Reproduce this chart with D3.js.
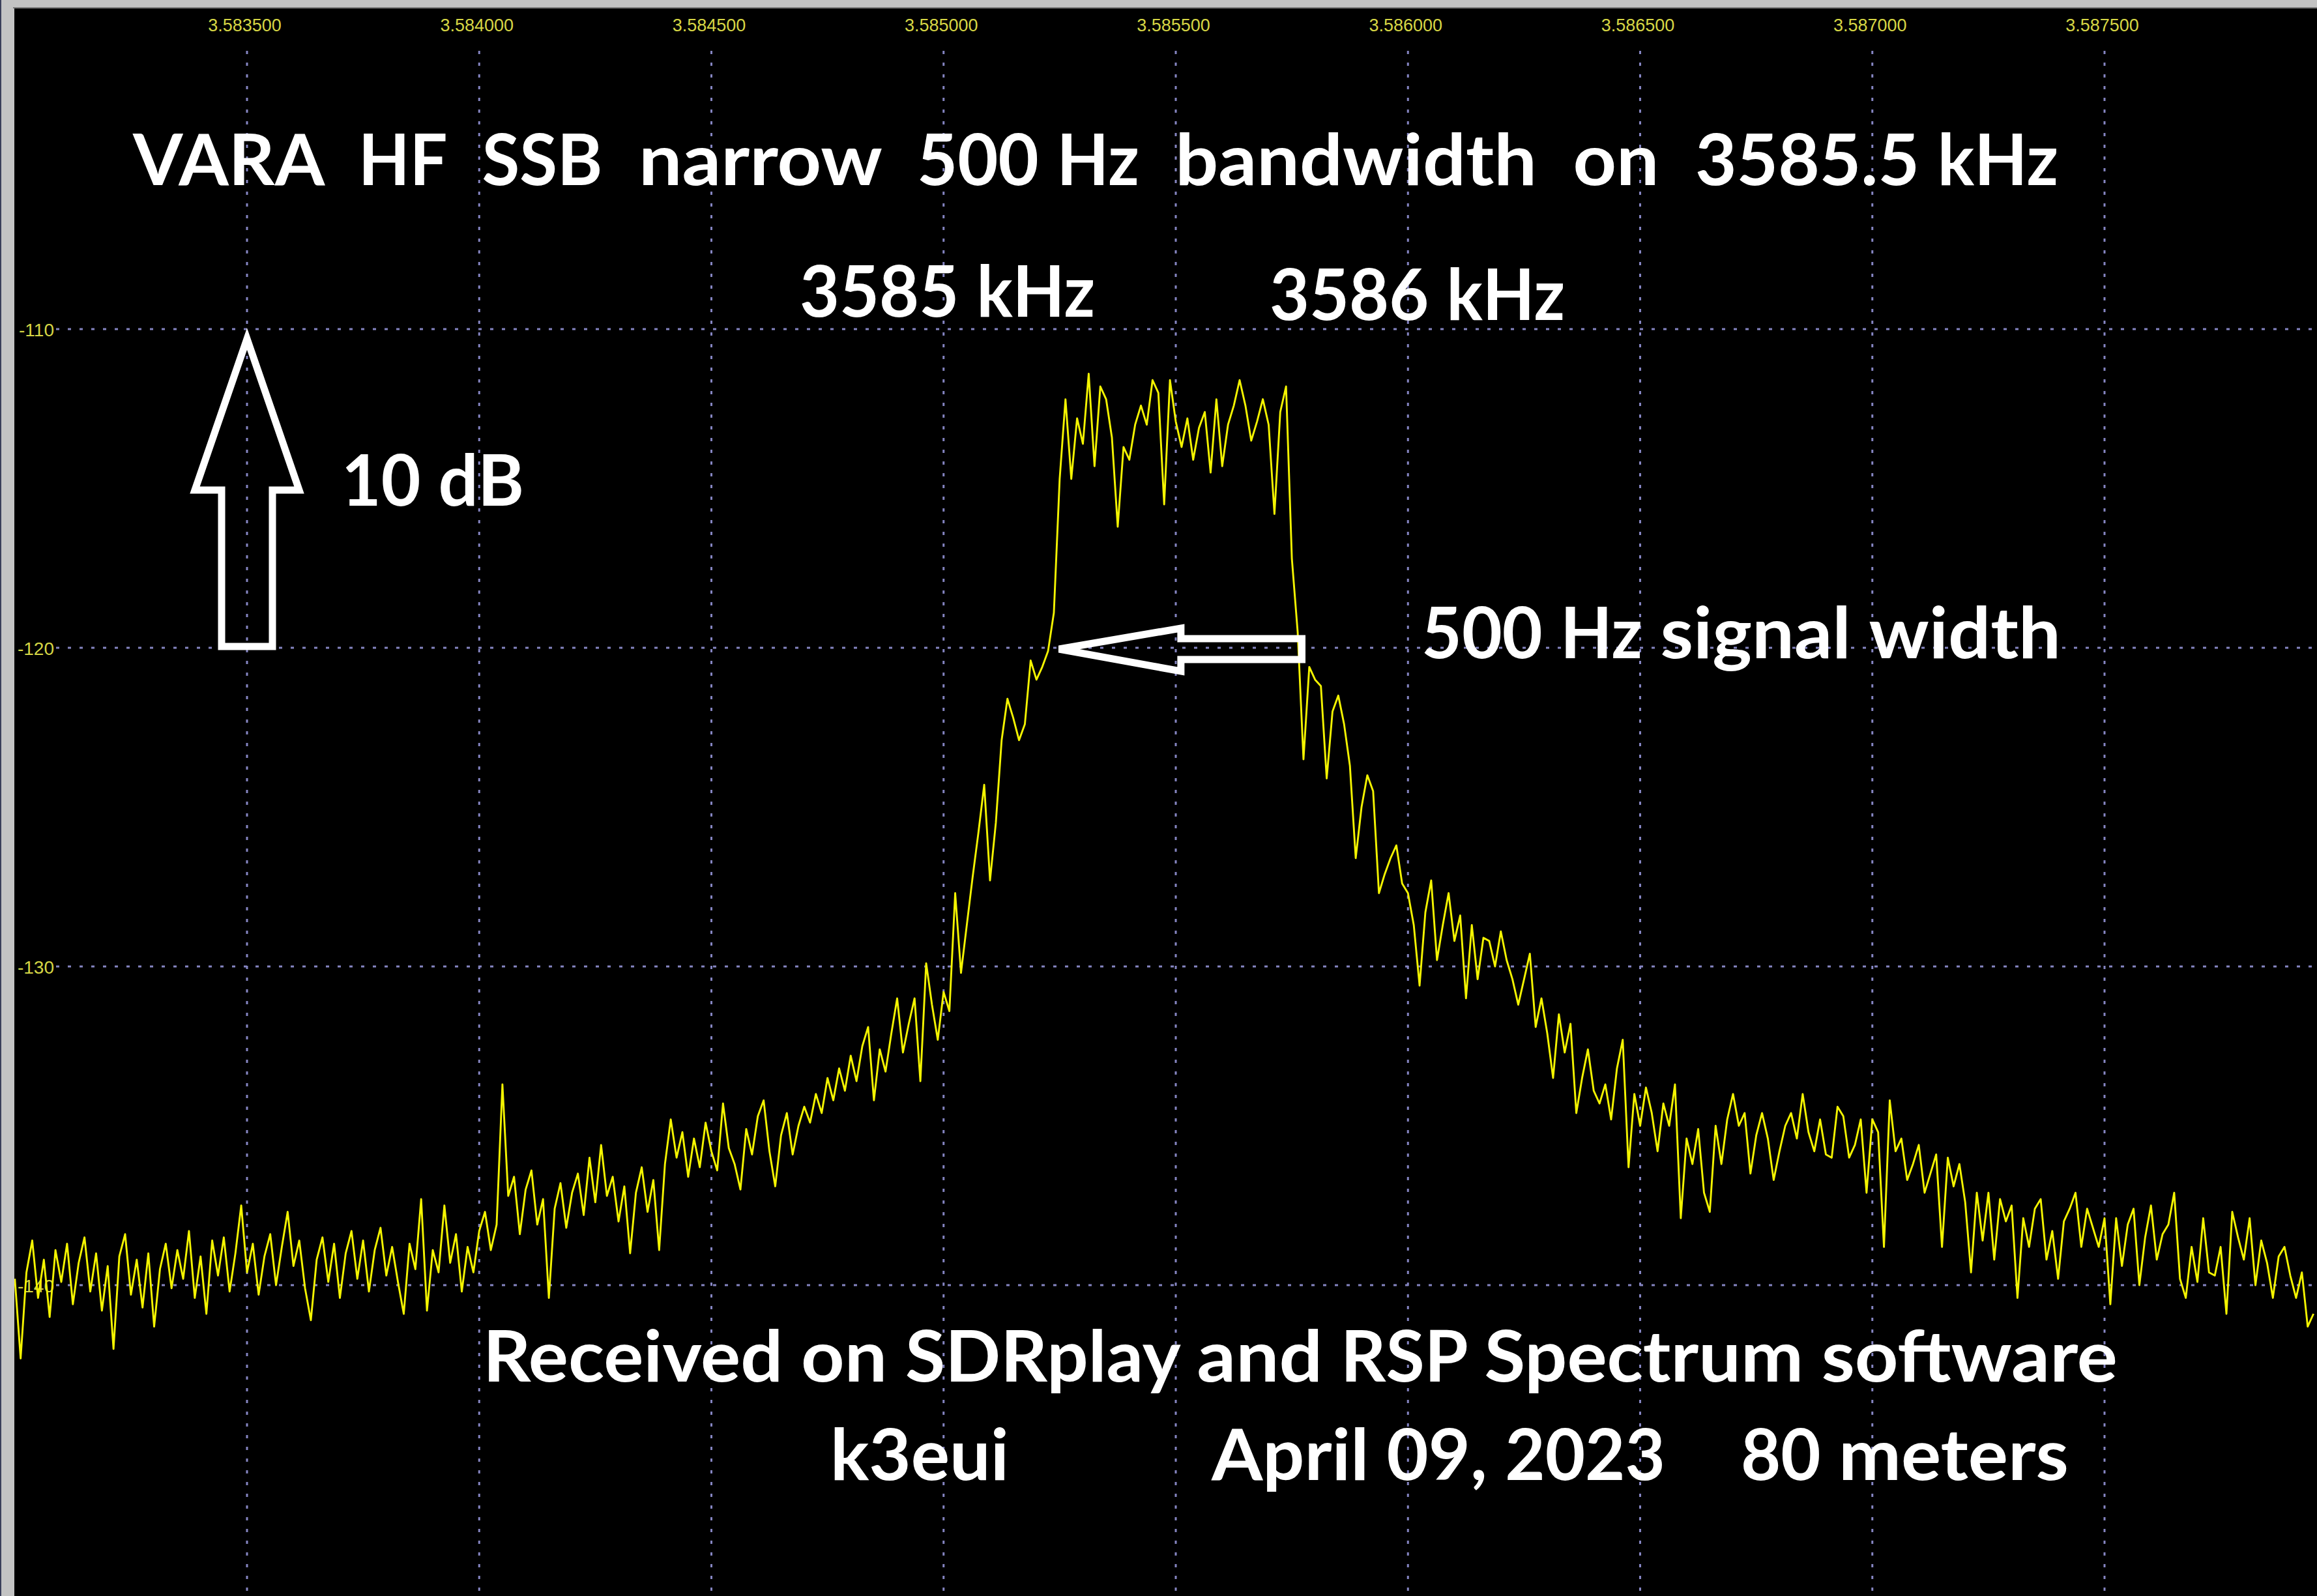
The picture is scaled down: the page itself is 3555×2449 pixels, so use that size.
<!DOCTYPE html>
<html><head><meta charset="utf-8">
<script src="https://cdn.jsdelivr.net/npm/d3@7"></script>
<style>html,body{margin:0;padding:0;background:#000;overflow:hidden}</style>
</head><body>
<script>
// ---------------- DATA ----------------
const freqTicks = [3.5835, 3.5840, 3.5845, 3.5850, 3.5855, 3.5860, 3.5865, 3.5870, 3.5875];
const freqTickLabels = ["3.583500","3.584000","3.584500","3.585000","3.585500","3.586000","3.586500","3.587000","3.587500"];
const dbTicks = [-110, -120, -130, -140];
const dbTickLabels = ["-110", "-120", "-130", "-140"];
const traceStartMHz = 3.583000;
const traceStepMHz = 0.0000125;
const traceDb = [
-139.8,-142.3,-139.6,-138.6,-140.4,-139.2,-141.0,-138.9,-139.9,-138.7,
-140.6,-139.3,-138.5,-140.2,-139.0,-140.8,-139.4,-142.0,-139.1,-138.4,
-140.3,-139.2,-140.7,-139.0,-141.3,-139.5,-138.7,-140.1,-138.9,-139.8,
-138.3,-140.4,-139.1,-140.9,-138.6,-139.7,-138.5,-140.2,-139.0,-137.5,
-139.6,-138.7,-140.3,-139.1,-138.4,-140.0,-138.8,-137.7,-139.4,-138.6,
-140.1,-141.1,-139.2,-138.5,-139.9,-138.7,-140.4,-139.0,-138.3,-139.8,
-138.6,-140.2,-138.9,-138.2,-139.7,-138.8,-139.9,-140.9,-138.7,-139.5,
-137.3,-140.8,-138.9,-139.6,-137.5,-139.3,-138.4,-140.2,-138.8,-139.6,
-138.3,-137.7,-138.9,-138.1,-133.7,-137.2,-136.6,-138.4,-137.0,-136.4,
-138.1,-137.3,-140.4,-137.6,-136.8,-138.2,-137.1,-136.5,-137.8,-136.0,
-137.4,-135.6,-137.2,-136.6,-138.0,-136.9,-139.0,-137.1,-136.3,-137.7,
-136.7,-138.9,-136.2,-134.8,-136.0,-135.2,-136.6,-135.4,-136.3,-134.9,
-135.8,-136.4,-134.3,-135.7,-136.2,-137.0,-135.1,-135.9,-134.7,-134.2,
-135.8,-136.9,-135.3,-134.6,-135.9,-135.0,-134.4,-134.9,-134.0,-134.6,
-133.5,-134.2,-133.2,-133.9,-132.8,-133.6,-132.5,-131.9,-134.2,-132.6,
-133.3,-132.1,-131.0,-132.7,-131.8,-131.0,-133.6,-129.9,-131.2,-132.3,
-130.8,-131.4,-127.7,-130.2,-128.7,-127.2,-125.8,-124.3,-127.3,-125.5,
-122.9,-121.6,-122.2,-122.9,-122.4,-120.4,-121.0,-120.6,-120.1,-118.9,
-114.7,-112.2,-114.7,-112.8,-113.6,-111.4,-114.3,-111.8,-112.2,-113.4,
-116.2,-113.7,-114.1,-113.0,-112.4,-113.0,-111.6,-112.0,-115.5,-111.6,
-112.9,-113.7,-112.8,-114.1,-113.1,-112.6,-114.5,-112.2,-114.3,-113.0,
-112.4,-111.6,-112.4,-113.5,-112.9,-112.2,-113.0,-115.8,-112.6,-111.8,
-117.2,-119.5,-123.5,-120.6,-121.0,-121.2,-124.1,-122.0,-121.5,-122.4,
-123.7,-126.6,-125.0,-124.0,-124.5,-127.7,-127.1,-126.6,-126.2,-127.4,
-127.7,-128.7,-130.6,-128.3,-127.3,-129.8,-128.7,-127.7,-129.2,-128.4,
-131.0,-128.7,-130.4,-129.1,-129.2,-130.0,-128.9,-129.8,-130.4,-131.2,
-130.4,-129.6,-131.9,-131.0,-132.1,-133.5,-131.5,-132.7,-131.8,-134.6,
-133.5,-132.6,-133.9,-134.3,-133.7,-134.8,-133.2,-132.3,-136.3,-134.0,
-135.0,-133.8,-134.6,-135.8,-134.3,-135.0,-133.7,-137.9,-135.4,-136.2,
-135.1,-137.1,-137.7,-135.0,-136.2,-134.8,-134.0,-135.0,-134.6,-136.5,
-135.3,-134.6,-135.4,-136.7,-135.8,-135.0,-134.6,-135.4,-134.0,-135.2,
-135.8,-134.8,-135.9,-136.0,-134.4,-134.7,-136.0,-135.6,-134.8,-137.1,
-134.8,-135.2,-138.8,-134.2,-135.8,-135.4,-136.7,-136.2,-135.6,-137.1,
-136.5,-135.9,-138.8,-136.0,-136.9,-136.2,-137.4,-139.6,-137.1,-138.6,
-137.1,-139.2,-137.3,-138.0,-137.5,-140.4,-137.9,-138.8,-137.6,-137.3,
-139.2,-138.3,-139.8,-138.0,-137.6,-137.1,-138.8,-137.6,-138.2,-138.8,
-137.9,-140.6,-137.9,-139.4,-138.1,-137.6,-140.0,-138.5,-137.5,-139.2,
-138.4,-138.1,-137.1,-139.8,-140.4,-138.8,-139.9,-137.9,-139.6,-139.7,
-138.8,-140.9,-137.7,-138.5,-139.2,-137.9,-140.0,-138.6,-139.3,-140.4,
-139.1,-138.8,-139.7,-140.4,-139.6,-141.3,-140.9
];
const titleText = "VARA  HF  SSB  narrow  500 Hz  bandwidth  on  3585.5 kHz";
const markerTexts = ["3585 kHz", "3586 kHz"];
const scaleText = "10 dB";
const widthText = "500 Hz signal width";
const footerLine1 = "Received on SDRplay and RSP Spectrum software";
const footerLine2 = ["k3eui", "April 09, 2023", "80 meters"];
// annotation anchors (data units)
const scaleArrowFreq = 3.5835;
const scaleArrowDb = [-110, -120];
const widthArrowFreq = [3.58525, 3.58578];
const widthArrowDb = -120;

// ---------------- LAYOUT ----------------
const W = 3555, H = 2449;
const frameLeft = 22, frameTop = 13;
const svg = d3.select("body").append("svg").attr("width", W).attr("height", H)
  .attr("viewBox", `0 0 ${W} ${H}`);

svg.append("rect").attr("width", W).attr("height", H).attr("fill", "#c3c3c3");
svg.append("rect").attr("x", 0).attr("y", 0).attr("width", 2).attr("height", H).attr("fill", "#3a3f5a");
svg.append("rect").attr("x", frameLeft - 2).attr("y", frameTop - 2).attr("width", W).attr("height", 2).attr("fill", "#7a7a7a");
svg.append("rect").attr("x", frameLeft).attr("y", frameTop).attr("width", W - frameLeft).attr("height", H - frameTop).attr("fill", "#000");

const x = d3.scaleLinear().domain([3.5835, 3.5875]).range([379, 3229]);
const y = d3.scaleLinear().domain([-110, -140]).range([505, 1972]);

const gridColor = "#8585c2";
svg.append("g").selectAll("line").data(freqTicks).join("line")
  .attr("x1", d => x(d)).attr("x2", d => x(d))
  .attr("y1", 78).attr("y2", H)
  .attr("stroke", gridColor).attr("stroke-width", 3).attr("stroke-dasharray", "5,13");
svg.append("g").selectAll("line").data(dbTicks).join("line")
  .attr("x1", 86).attr("x2", W)
  .attr("y1", d => y(d)).attr("y2", d => y(d))
  .attr("stroke", gridColor).attr("stroke-width", 3).attr("stroke-dasharray", "5,13");

const tickColor = "#d6d645";
const xAxis = d3.axisTop(x).tickValues(freqTicks)
  .tickFormat((d, i) => freqTickLabels[i]).tickSize(0).tickPadding(0);
const gx = svg.append("g").attr("transform", "translate(-4,48)").call(xAxis);
gx.select(".domain").remove();
gx.selectAll("text").attr("fill", tickColor).attr("font-family", "'Liberation Sans', Arial, sans-serif")
  .attr("font-size", 27).attr("dy", 0);

const yAxis = d3.axisLeft(y).tickValues(dbTicks)
  .tickFormat((d, i) => dbTickLabels[i]).tickSize(0).tickPadding(0);
const gy = svg.append("g").attr("transform", "translate(83,0)").call(yAxis);
gy.select(".domain").remove();
gy.selectAll("text").attr("fill", tickColor).attr("font-family", "'Liberation Sans', Arial, sans-serif")
  .attr("font-size", 28).attr("dy", "0.36em");

// trace
svg.append("clipPath").attr("id", "plotclip").append("rect")
  .attr("x", frameLeft).attr("y", frameTop).attr("width", W - frameLeft).attr("height", H - frameTop);
const line = d3.line()
  .x((d, i) => x(traceStartMHz + i * traceStepMHz))
  .y(d => y(d));
svg.append("path").datum(traceDb)
  .attr("clip-path", "url(#plotclip)")
  .attr("d", line).attr("fill", "none")
  .attr("stroke", "#f4f400").attr("stroke-width", 2.9).attr("stroke-linejoin", "round");

// arrows
const ax = x(scaleArrowFreq), aTop = y(scaleArrowDb[0]) + 15, aBot = y(scaleArrowDb[1]) - 2;
const headBase = aTop + 232;
svg.append("path")
  .attr("d", `M${ax},${aTop} L${ax - 80},${headBase} L${ax - 39},${headBase} L${ax - 39},${aBot} L${ax + 39},${aBot} L${ax + 39},${headBase} L${ax + 80},${headBase} Z`)
  .attr("fill", "none").attr("stroke", "#fff").attr("stroke-width", 11).attr("stroke-linejoin", "miter").attr("stroke-miterlimit", 10);

const lx = x(widthArrowFreq[0]) - 1, rx = x(widthArrowFreq[1]) - 6, ly = y(widthArrowDb) + 2;
const hb = lx + 187;
svg.append("path")
  .attr("d", `M${lx},${ly} L${hb},${ly - 32} L${hb},${ly - 16} L${rx},${ly - 16} L${rx},${ly + 16} L${hb},${ly + 16} L${hb},${ly + 34} Z`)
  .attr("fill", "none").attr("stroke", "#fff").attr("stroke-width", 11).attr("stroke-linejoin", "miter").attr("stroke-miterlimit", 2.5);

// annotation texts, word-placed with Calibri-like bold advance widths (em units)
const adv = {" ":0.226,".":0.267,",":0.258,"0":0.507,"1":0.507,"2":0.507,"3":0.507,"4":0.507,"5":0.507,"6":0.507,"7":0.507,"8":0.507,"9":0.507,
  A:0.606,B:0.561,D:0.630,F:0.459,H:0.631,P:0.532,R:0.563,S:0.473,V:0.591,
  a:0.494,b:0.537,c:0.418,d:0.537,e:0.503,f:0.316,g:0.474,h:0.537,i:0.246,k:0.480,l:0.246,m:0.813,n:0.537,o:0.538,p:0.537,r:0.355,s:0.399,t:0.347,u:0.537,v:0.473,w:0.745,y:0.474,z:0.397};
const emOf = s => Array.from(s).reduce((a, c) => a + (adv[c] || 0.5), 0);
const fontFam = "Lato, 'Open Sans', sans-serif";

function placeLine(parent, txt, x0, x1, by) {
  const words = txt.match(/\S+\s*/g);
  const total = emOf(txt.replace(/\s+$/, ""));
  const k = (x1 - x0) / total;
  let cum = 0;
  words.forEach(tok => {
    const w = tok.replace(/\s+$/, "");
    const sp = tok.slice(w.length);
    parent.append("tspan").attr("x", x0 + cum * k).attr("y", by)
      .attr("textLength", emOf(w) * k).attr("lengthAdjust", "spacingAndGlyphs").text(w);
    if (sp.length) parent.append("tspan").text(sp);
    cum += emOf(tok);
  });
}
function textLine(txt, x0, x1, by) {
  const t = svg.append("text").attr("fill", "#fff").attr("font-family", fontFam)
    .attr("font-weight", 700).attr("font-size", 110).style("white-space", "pre");
  placeLine(t, txt, x0, x1, by);
  return t;
}
textLine(titleText, 204, 3158, 284);
textLine(markerTexts[0], 1227, 1680, 486);
textLine(markerTexts[1], 1948, 2401, 491);
textLine(scaleText, 524, 804, 776);
textLine(widthText, 2181, 3162, 1010);
textLine(footerLine1, 741, 3249, 2120);
const f2 = svg.append("text").attr("fill", "#fff").attr("font-family", fontFam)
  .attr("font-weight", 700).attr("font-size", 110).style("white-space", "pre");
placeLine(f2, footerLine2[0] + "          ", 1274, 1548, 2271);
placeLine(f2, footerLine2[1] + "    ", 1859, 2555, 2271);
placeLine(f2, footerLine2[2], 2671, 3174, 2271);
</script>
</body></html>
